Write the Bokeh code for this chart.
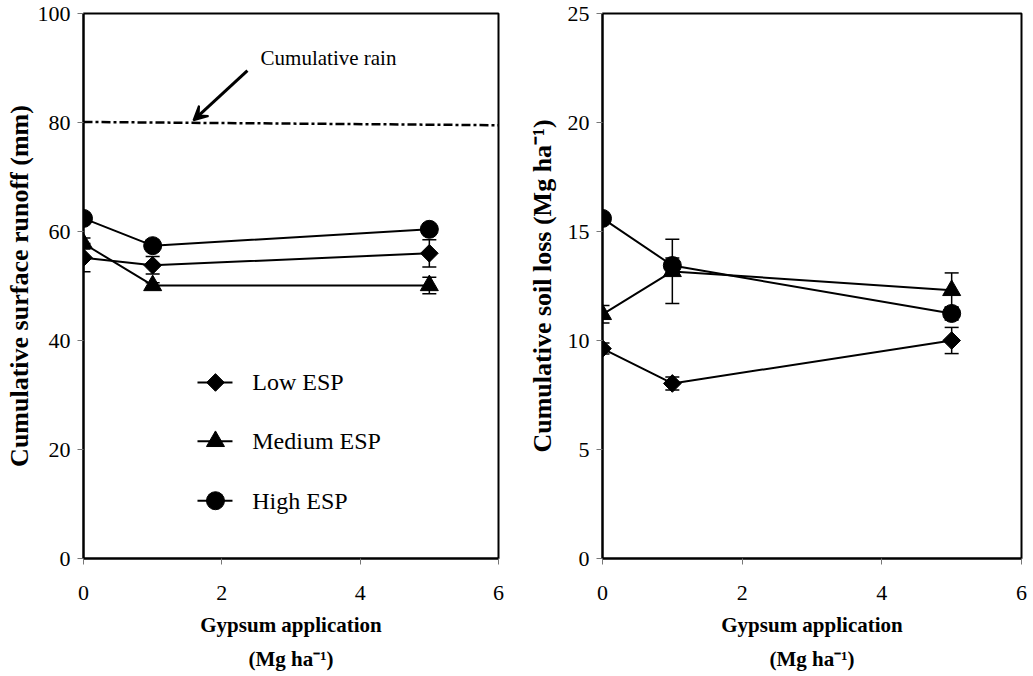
from math import pi
from bokeh.plotting import figure
from bokeh.layouts import row
from bokeh.models import (Range1d, FixedTicker, Whisker, TeeHead, ColumnDataSource,
                          Label, Arrow, VeeHead, Title)
from bokeh.core.properties import value
from bokeh.embed import file_html
from bokeh.resources import INLINE

# ---------------- data ----------------
gypsum = [0, 1, 5]

runoff_low = [55.2, 53.8, 56.0]
runoff_low_err = [2.6, 1.6, 2.5]
runoff_med = [57.8, 50.1, 50.1]
runoff_med_err = [1.0, 0.5, 1.5]
runoff_high = [62.4, 57.4, 60.4]
runoff_high_err = [0.5, 0.5, 0.5]

rain_x = [0, 6]
rain_y = [80.1, 79.5]

soil_low = [9.63, 8.03, 10.0]
soil_low_err = [0.25, 0.3, 0.6]
soil_med = [11.2, 13.17, 12.3]
soil_med_err = [0.4, 1.47, 0.8]
soil_high = [15.6, 13.44, 11.24]
soil_high_err = [0.2, 0.35, 0.3]

x_ticks = [0, 2, 4, 6]
runoff_ticks = [0, 20, 40, 60, 80, 100]
soil_ticks = [0, 5, 10, 15, 20, 25]

series_names = ["Low ESP", "Medium ESP", "High ESP"]

# ---------------- styles ----------------
SERIF = "Liberation Serif"
MARKERS = {
    "Low ESP": dict(marker="square", size=12.5, angle=pi / 4),
    "Medium ESP": dict(marker="triangle", size=18, angle=0),
    "High ESP": dict(marker="circle", size=18, angle=0),
}


def make_fig(width, bl, br, ymax, yticks, ylabel, ylabel_size, ylabel_standoff):
    p = figure(width=width, height=676, x_range=Range1d(0, 6), y_range=Range1d(0, ymax),
               output_backend="svg", toolbar_location=None,
               min_border_left=bl, min_border_right=br, min_border_top=13,
               min_border_bottom=118, background_fill_color="white",
               border_fill_color="white")
    p.xgrid.visible = False
    p.ygrid.visible = False
    p.outline_line_color = "black"
    p.outline_line_width = 2
    p.outline_line_alpha = 1
    for ax in (p.xaxis[0], p.yaxis[0]):
        ax.axis_line_width = 2
        ax.axis_line_color = "black"
        ax.major_tick_in = 0
        ax.major_tick_out = 6
        ax.major_tick_line_color = "#777777"
        ax.minor_tick_line_color = None
        ax.major_label_text_font = SERIF
        ax.major_label_text_font_size = "22px"
        ax.major_label_text_color = "black"
        ax.axis_label_text_font = SERIF
        ax.axis_label_text_font_style = "bold"
        ax.axis_label_text_color = "black"
    p.xaxis.ticker = FixedTicker(ticks=x_ticks)
    p.yaxis.ticker = FixedTicker(ticks=yticks)
    p.xaxis.major_label_standoff = 21
    p.yaxis.major_label_standoff = 7
    p.xaxis.axis_label = "Gypsum application"
    p.xaxis.axis_label_text_font_size = "21px"
    p.xaxis.axis_label_standoff = 10
    p.yaxis.axis_label = ylabel
    p.yaxis.axis_label_text_font_size = ylabel_size
    p.yaxis.axis_label_standoff = ylabel_standoff
    p.add_layout(Title(text="(Mg ha\u207b\u00b9)", align="center", text_font=SERIF,
                       text_font_style="bold", text_font_size="21px", text_color="black",
                       standoff=11, offset=0), "below")
    return p


def add_series(p, y, err, name):
    src = ColumnDataSource(dict(x=gypsum, y=y,
                                up=[a + b for a, b in zip(y, err)],
                                lo=[a - b for a, b in zip(y, err)]))
    w = Whisker(base="x", upper="up", lower="lo", source=src, dimension="height",
                line_width=1.5, line_color="black",
                upper_head=TeeHead(size=14, line_width=1.5, line_color="black"),
                lower_head=TeeHead(size=14, line_width=1.5, line_color="black"))
    p.add_layout(w)
    p.line("x", "y", source=src, line_color="black", line_width=2)
    m = MARKERS[name]
    p.scatter("x", "y", source=src, marker=m["marker"], size=m["size"], angle=m["angle"],
              fill_color="black", line_color="black")


# ---------------- left panel: runoff ----------------
p1 = make_fig(516, 83, 18, 100, runoff_ticks, "Cumulative surface runoff (mm)", "26px", 1)
p1.line(rain_x, rain_y, line_color="black", line_width=2.5, line_dash="9 3 3 3")
for name, y, e in zip(series_names, [runoff_low, runoff_med, runoff_high],
                      [runoff_low_err, runoff_med_err, runoff_high_err]):
    add_series(p1, y, e, name)

p1.add_layout(Arrow(end=VeeHead(size=14, fill_color="black", line_color="black", line_width=2),
                    x_start=2.37, y_start=89.5, x_end=1.59, y_end=80.4,
                    line_width=3, line_color="black"))
p1.add_layout(Label(x=2.56, y=91.9, text="Cumulative rain", text_align="left",
                    text_baseline="middle", text_font=SERIF, text_font_size="21px",
                    text_color="black"))

# manual legend
leg_line_x0, leg_line_x1, leg_mark_x, leg_text_x = 1.648, 2.154, 1.908, 2.44
leg_rows_y = [32.3, 21.5, 10.6]
for name, ly in zip(series_names, leg_rows_y):
    m = MARKERS[name]
    p1.segment(x0=[leg_line_x0], y0=[ly], x1=[leg_line_x1], y1=[ly],
               line_color="black", line_width=2)
    p1.scatter([leg_mark_x], [ly], marker=m["marker"], size=m["size"], angle=m["angle"],
               fill_color="black", line_color="black")
    p1.text([leg_text_x], [ly], text=[name], text_font=value(SERIF),
            text_font_size="24px", text_baseline="middle", text_align="left",
            text_color="black")

# ---------------- right panel: soil loss ----------------
p2 = make_fig(517, 86, 12, 25, soil_ticks, "Cumulative soil loss (Mg ha\u207b\u00b9)", "26px", 8)
for name, y, e in zip(series_names, [soil_low, soil_med, soil_high],
                      [soil_low_err, soil_med_err, soil_high_err]):
    add_series(p2, y, e, name)

layout = row(p1, p2, spacing=0)
open("out.html", "w").write(file_html(layout, INLINE))
